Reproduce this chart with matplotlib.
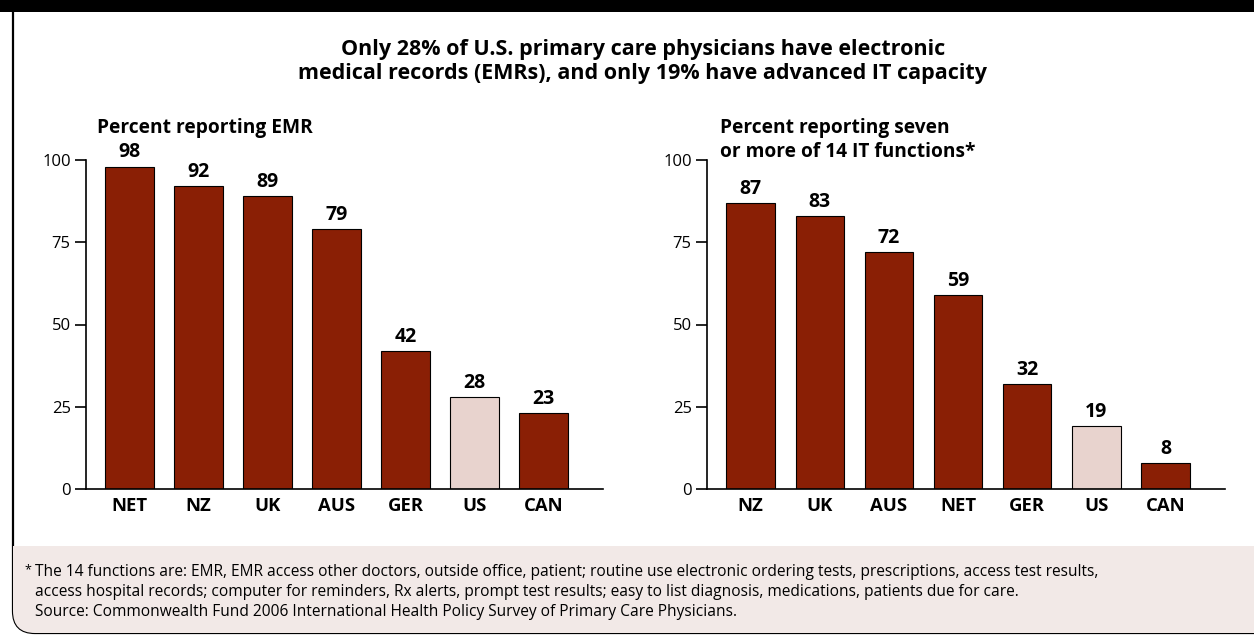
import matplotlib
matplotlib.use("Agg")
import matplotlib.pyplot as plt
from matplotlib.patches import FancyBboxPatch, Rectangle
from matplotlib.transforms import IdentityTransform

plt.rcParams["font.family"] = ["Open Sans", "DejaVu Sans"]

# Survey results, 2006
emr_countries = ["NET", "NZ", "UK", "AUS", "GER", "US", "CAN"]
emr_values = [98, 92, 89, 79, 42, 28, 23]

it_countries = ["NZ", "UK", "AUS", "NET", "GER", "US", "CAN"]
it_values = [87, 83, 72, 59, 32, 19, 8]

yticks = [0, 25, 50, 75, 100]

title = ("Only 28% of U.S. primary care physicians have electronic\n"
         "medical records (EMRs), and only 19% have advanced IT capacity")
emr_label = "Percent reporting EMR"
it_label = "Percent reporting seven\nor more of 14 IT functions*"
notes = [
    "The 14 functions are: EMR, EMR access other doctors, outside office, patient; "
    "routine use electronic ordering tests, prescriptions, access test results,",
    "access hospital records; computer for reminders, Rx alerts, prompt test results; "
    "easy to list diagnosis, medications, patients due for care.",
    "Source: Commonwealth Fund 2006 International Health Policy Survey of Primary Care Physicians.",
]

BAR = "#8a1f05"
US_BAR = "#e8d3ce"
NOTE_BG = "#f2e9e7"

W, H = 1254, 635
fig = plt.figure(figsize=(W / 100, H / 100), dpi=100)


def fx(px):
    return px / W


def fy(py):
    return 1 - py / H


# panel frame with rounded corners, pink footnote band and black header strip
frame = FancyBboxPatch((13, 2), 1300, 700, boxstyle="round,pad=0,rounding_size=22",
                       transform=IdentityTransform(), facecolor="white",
                       edgecolor="black", linewidth=1.6, zorder=-3)
fig.add_artist(frame)
band = Rectangle((0, 0), W + 100, H - 546, transform=IdentityTransform(),
                 facecolor=NOTE_BG, edgecolor="none", zorder=-2)
fig.add_artist(band)
band.set_clip_path(frame)
fig.add_artist(Rectangle((0, H - 12), W, 12, transform=IdentityTransform(),
                         facecolor="black", edgecolor="none", zorder=-1))


def bar_panel(left_px, right_px, countries, values):
    ax = fig.add_axes([fx(left_px), fy(489), fx(right_px - left_px), (489 - 160) / H])
    ax.patch.set_alpha(0)
    x = range(len(countries))
    colors = [US_BAR if c == "US" else BAR for c in countries]
    bars = ax.bar(x, values, width=0.70, color=colors, edgecolor="black", linewidth=0.8)
    for rect, v in zip(bars, values):
        ax.annotate(f"{v}", (rect.get_x() + rect.get_width() / 2, v),
                    xytext=(0, 3), textcoords="offset points", ha="center", va="bottom",
                    fontsize=14, fontweight="bold")
    ax.set_ylim(0, 100)
    ax.set_xlim(-0.63, 6.86)
    ax.set_yticks(yticks)
    ax.set_xticks(list(x))
    ax.set_xticklabels(countries, fontsize=13.3, fontweight="bold")
    ax.tick_params(axis="y", length=8, width=1.2, pad=3, labelsize=12)
    ax.tick_params(axis="x", length=0, pad=6)
    for side in ("top", "right"):
        ax.spines[side].set_visible(False)
    for side in ("left", "bottom"):
        ax.spines[side].set_linewidth(1.2)
    return ax


bar_panel(86, 603, emr_countries, emr_values)
bar_panel(707, 1225, it_countries, it_values)

fig.text(fx(643), fy(61.5), title, ha="center", va="center", fontsize=15.5,
         fontweight="bold", linespacing=1.23)
fig.text(fx(97), fy(128), emr_label, ha="left", va="center", fontsize=13.8,
         fontweight="bold")
fig.text(fx(720), fy(140), it_label, ha="left", va="center", fontsize=13.8,
         fontweight="bold", linespacing=1.22)

fig.text(fx(24), fy(570), "*", ha="left", va="center", fontsize=9)
for i, line in enumerate(notes):
    fig.text(fx(35), fy(572 + 20 * i), line, ha="left", va="center", fontsize=11.2)

fig.savefig("out.png", dpi=100)
